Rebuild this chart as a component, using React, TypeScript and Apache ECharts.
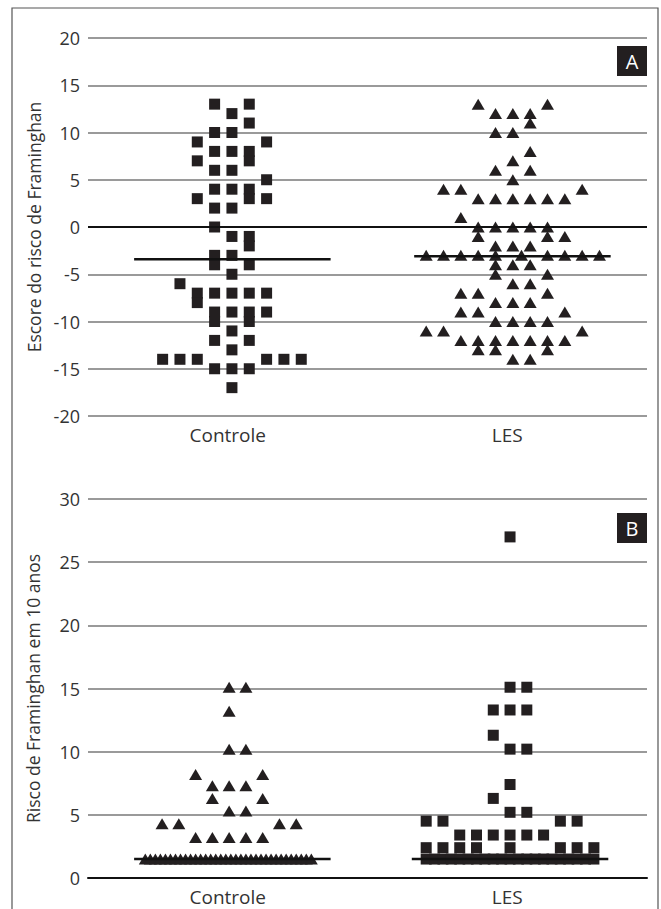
import React, { useEffect, useRef } from "react";
import * as echarts from "echarts";

// ---------- DATA (column offset in the swarm, value) ----------
const categories = ["Controle", "LES"];

// Panel A: Escore do risco de Framinghan
const scoreControle: number[][] = [
  [-1, 13], [1, 13], [0, 12], [1, 11], [-1, 10], [0, 10], [-2, 9], [2, 9],
  [-1, 8], [0, 8], [1, 8], [-2, 7], [1, 7], [-1, 6], [0, 6], [2, 5],
  [-1, 4], [0, 4], [1, 4], [-2, 3], [1, 3], [2, 3], [-1, 2], [0, 2],
  [-1, 0], [0, -1], [1, -1], [1, -2], [-1, -3], [0, -3], [-1, -4], [1, -4],
  [0, -5], [-3, -6], [-2, -7], [-1, -7], [0, -7], [1, -7], [2, -7], [-2, -8],
  [-1, -9], [0, -9], [1, -9], [2, -9], [-1, -10], [1, -10], [0, -11],
  [-1, -12], [1, -12], [0, -13], [-4, -14], [-3, -14], [-2, -14], [2, -14],
  [3, -14], [4, -14], [-1, -15], [0, -15], [1, -15], [0, -17],
];
const scoreLES: number[][] = [
  [-2, 13], [2, 13], [-1, 12], [0, 12], [1, 12], [1, 11], [-1, 10], [0, 10],
  [1, 8], [0, 7], [-1, 6], [1, 6], [0, 5], [-4, 4], [-3, 4], [4, 4],
  [-2, 3], [-1, 3], [0, 3], [1, 3], [2, 3], [3, 3], [-3, 1],
  [-2, 0], [-1, 0], [0, 0], [1, 0], [2, 0], [-2, -1], [2, -1], [3, -1],
  [-1, -2], [0, -2], [1, -2],
  [-5, -3], [-4, -3], [-3, -3], [-2, -3], [-1, -3], [0.5, -3], [2, -3], [3, -3], [4, -3], [5, -3],
  [-1, -4], [0, -4], [1, -4], [-1, -5], [2, -5], [0, -6], [1, -6],
  [-3, -7], [-2, -7], [2, -7], [-1, -8], [0, -8], [1, -8], [-3, -9], [-2, -9], [3, -9],
  [-1, -10], [0, -10], [1, -10], [2, -10], [-5, -11], [-4, -11], [4, -11],
  [-3, -12], [-2, -12], [-1, -12], [0, -12], [1, -12], [2, -12], [3, -12],
  [-2, -13], [-1, -13], [2, -13], [0, -14], [1, -14],
];
const medianScore = [-3.4, -3.1];

// Panel B: Risco de Framinghan em 10 anos
const riskControle: number[][] = [
  [0, 15.1], [1, 15.1], [0, 13.2], [0, 10.2], [1, 10.2], [-2, 8.2], [2, 8.2],
  [-1, 7.3], [0, 7.3], [1, 7.3], [-1, 6.3], [2, 6.3], [0, 5.3], [1, 5.3],
  [-4, 4.3], [-3, 4.3], [3, 4.3], [4, 4.3],
  [-2, 3.2], [-1, 3.2], [0, 3.2], [1, 3.2], [2, 3.2],
];
const riskControleLowValue = 1.5;
const riskControleLowCols = [
  -5, -4.7, -4.4, -4.1, -3.8, -3.5, -3.2, -2.9, -2.6, -2.3, -2, -1.7, -1.4, -1.1,
  -0.8, -0.5, -0.2, 0.1, 0.4, 0.7, 1, 1.3, 1.6, 1.9, 2.2, 2.5, 2.8, 3.1, 3.4,
  3.7, 4, 4.3, 4.6, 4.9,
];
const riskLES: number[][] = [
  [0, 27], [0, 15.1], [1, 15.1], [-1, 13.3], [0, 13.3], [1, 13.3], [-1, 11.3],
  [0, 10.2], [1, 10.2], [0, 7.4], [-1, 6.3], [0, 5.2], [1, 5.2],
  [-5, 4.5], [-4, 4.5], [3, 4.5], [4, 4.5],
  [-3, 3.4], [-2, 3.4], [-1, 3.4], [0, 3.4], [1, 3.4], [2, 3.4],
  [-5, 2.4], [-4, 2.4], [-3, 2.4], [-2, 2.4], [0, 2.4], [3, 2.4], [4, 2.4], [5, 2.4],
];
const riskLESLowValue = 1.5;
const riskLESLowCols = [
  -5, -4.5, -4, -3.5, -3, -2.5, -2, -1.5, -1, -0.5, 0, 0.5, 1, 1.5, 2, 2.5, 3,
  3.5, 4, 4.5, 5,
];
const medianRisk = [1.5, 1.5];

const yTicksA = { min: -20, max: 20, interval: 5 };
const yTicksB = { min: 0, max: 30, interval: 5 };

// ---------- LAYOUT ----------
const FONT = "'Open Sans', 'DejaVu Sans', sans-serif";
const TXT = "#333";
const INK = "#231f20";
const GRIDC = "#9a9a9a";
const centersA = [1.03, 3.04];
const stepA = 0.124;
const centersB = [1.01, 3.02];
const stepB = 0.12;
const medianCentersA = [1.033, 3.037];
const medianCentersB = [1.033, 3.02];
const medianHalf = 0.703;

function place(pts: number[][], center: number, step: number) {
  return pts.map((p) => [center + p[0] * step, p[1]]);
}
function placeRow(cols: number[], v: number, center: number, step: number) {
  return cols.map((c) => [center + c * step, v]);
}

export default function App() {
  const ref = useRef<HTMLDivElement>(null);
  useEffect(() => {
    if (!ref.current) return;
    const chart = echarts.init(ref.current, null, { renderer: "svg" });

    const xAxisBase = (gridIndex: number, showLine: boolean) => ({
      type: "value",
      gridIndex,
      min: 0,
      max: 4,
      interval: 1,
      splitLine: { show: false },
      axisTick: { show: false },
      axisLine: { show: showLine, lineStyle: { color: "#111", width: 2 } },
      axisLabel: {
        margin: 9,
        fontSize: 19,
        color: TXT,
        fontFamily: FONT,
        formatter: (v: number) => (v === 1 ? categories[0] : v === 3 ? categories[1] : ""),
      },
    });
    const yAxisBase = (gridIndex: number, t: any, name: string, gap: number) => ({
      type: "value",
      gridIndex,
      min: t.min,
      max: t.max,
      interval: t.interval,
      name,
      nameLocation: "middle",
      nameGap: gap,
      nameTextStyle: { fontSize: 17.5, color: TXT, fontFamily: FONT },
      axisLine: { show: false },
      axisTick: { show: false },
      axisLabel: { margin: 8, fontSize: 18, color: TXT, fontFamily: FONT },
      splitLine: { show: true, lineStyle: { color: GRIDC, width: 2 } },
    });
    const zeroLine = {
      silent: true,
      symbol: ["none", "none"],
      label: { show: false },
      lineStyle: { color: "#111", width: 2, type: "solid" },
      data: [{ yAxis: 0 }],
    };
    const square = { symbol: "rect", symbolSize: 11, itemStyle: { color: INK, opacity: 1 } };
    const tri = { symbol: "triangle", symbolSize: [13, 11], itemStyle: { color: INK, opacity: 1 } };
    const medianSeries = (xi: number, c: number, m: number) => ({
      type: "line",
      xAxisIndex: xi,
      yAxisIndex: xi,
      data: [
        [c - medianHalf, m],
        [c + medianHalf, m],
      ],
      showSymbol: false,
      symbol: "none",
      lineStyle: { color: "#111", width: 2.5 },
      z: 4,
      silent: true,
    });

    chart.setOption({
      animation: false,
      backgroundColor: "#fff",
      grid: [
        { left: 88, right: 14, top: 38, bottom: 493 },
        { left: 88, right: 14, top: 499, bottom: 31 },
      ],
      xAxis: [xAxisBase(0, false), xAxisBase(1, true)],
      yAxis: [
        yAxisBase(0, yTicksA, "Escore do risco de Framinghan", 44),
        yAxisBase(1, yTicksB, "Risco de Framinghan em 10 anos", 46),
      ],
      graphic: [
        {
          type: "rect",
          shape: { x: 12, y: 8, width: 646, height: 1000 },
          style: { fill: "none", stroke: "#555", lineWidth: 1.2 },
          silent: true,
        },
        {
          type: "rect",
          shape: { x: 617, y: 46, width: 30, height: 30 },
          style: { fill: INK },
        },
        {
          type: "text",
          x: 632,
          y: 61,
          style: {
            text: "A",
            fill: "#fff",
            fontSize: 20,
            fontFamily: FONT,
            align: "center",
            verticalAlign: "middle",
          },
        },
        {
          type: "rect",
          shape: { x: 617, y: 513, width: 30, height: 30 },
          style: { fill: INK },
        },
        {
          type: "text",
          x: 632,
          y: 528,
          style: {
            text: "B",
            fill: "#fff",
            fontSize: 20,
            fontFamily: FONT,
            align: "center",
            verticalAlign: "middle",
          },
        },
      ],
      series: [
        {
          type: "scatter",
          name: "A-" + categories[0],
          xAxisIndex: 0,
          yAxisIndex: 0,
          data: place(scoreControle, centersA[0], stepA),
          ...square,
          markLine: zeroLine,
          z: 3,
        },
        {
          type: "scatter",
          name: "A-" + categories[1],
          xAxisIndex: 0,
          yAxisIndex: 0,
          data: place(scoreLES, centersA[1], stepA),
          ...tri,
          z: 3,
        },
        medianSeries(0, medianCentersA[0], medianScore[0]),
        medianSeries(0, medianCentersA[1], medianScore[1]),
        {
          type: "scatter",
          name: "B-" + categories[0],
          xAxisIndex: 1,
          yAxisIndex: 1,
          data: place(riskControle, centersB[0], stepB).concat(
            placeRow(riskControleLowCols, riskControleLowValue, centersB[0], stepB)
          ),
          ...tri,
          markLine: zeroLine,
          z: 3,
        },
        {
          type: "scatter",
          name: "B-" + categories[1],
          xAxisIndex: 1,
          yAxisIndex: 1,
          data: place(riskLES, centersB[1], stepB).concat(
            placeRow(riskLESLowCols, riskLESLowValue, centersB[1], stepB)
          ),
          ...square,
          z: 3,
        },
        medianSeries(1, medianCentersB[0], medianRisk[0]),
        medianSeries(1, medianCentersB[1], medianRisk[1]),
      ],
    });
    return () => chart.dispose();
  }, []);
  return (
    <div
      ref={ref}
      style={{ position: "absolute", left: 0, top: 0, width: 661, height: 909 }}
    />
  );
}
